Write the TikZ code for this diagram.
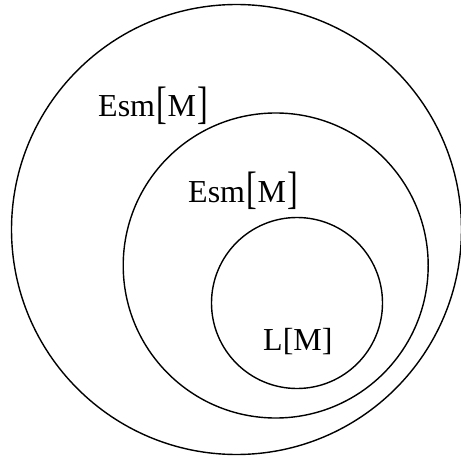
\documentclass[tikz,border=0pt]{standalone}
\usepackage{fontspec}
\setmainfont{Liberation Serif}
\usepackage{graphicx}
\newcommand{\tallbr}[1]{\kern1pt\raisebox{-1.5pt}{\scalebox{1}[1.42]{#1}}\kern1pt}
\begin{document}
\begin{tikzpicture}[x=1pt,y=1pt,
  ring/.style={circle,draw,line width=1.4pt,inner sep=0pt},
  lbl/.style={anchor=base west,inner sep=0pt,font=\fontsize{32}{36}\selectfont}]
\useasboundingbox (0,0) rectangle (461,459);
\node[ring,minimum size=450pt] (outer) at (236.5,229.5) {};
\node[ring,minimum size=305pt] (middle) at (275.7,193.5) {};
\node[ring,minimum size=171pt] (inner) at (297,156) {};
\node[lbl] (l1) at (98,342) {Esm\tallbr{[}M\tallbr{]}};
\node[lbl] (l2) at (188,257) {Esm\tallbr{[}M\tallbr{]}};
\node[lbl] (l3) at (263,109) {L[M]};
\end{tikzpicture}
\end{document}
